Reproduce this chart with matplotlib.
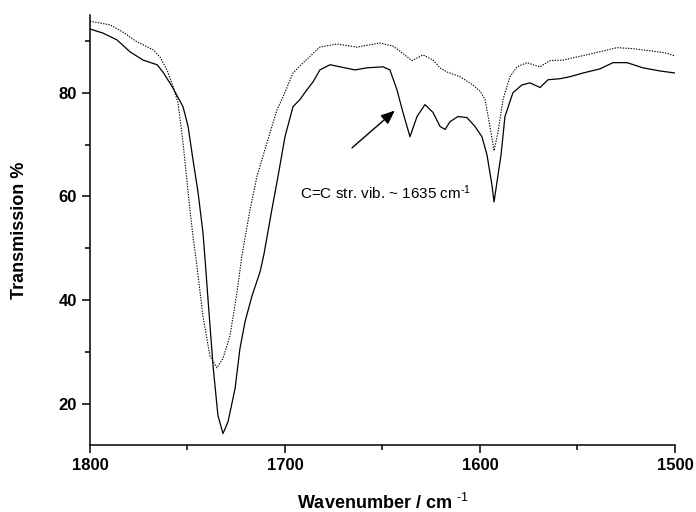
"""
IR spectrum 1800-1500 cm-1, two samples (solid / dotted)
"""
import matplotlib
matplotlib.use('Agg')
import matplotlib.pyplot as plt
from matplotlib.ticker import MultipleLocator

plt.rcParams['font.family'] = ['Liberation Sans', 'DejaVu Sans']
plt.rcParams['mathtext.fontset'] = 'custom'
plt.rcParams['mathtext.rm'] = 'Liberation Sans'
plt.rcParams['mathtext.default'] = 'regular'
plt.rcParams['axes.unicode_minus'] = False

# solid spectrum (wavenumber, transmission %)
wn_solid = [1800, 1793.3, 1786.2, 1779.5, 1772.8, 1765.6, 1762.6, 1757.9, 1752.3, 1749.7,
            1747.2, 1744.6, 1742.1, 1741.0, 1739.5, 1736.9, 1734.4, 1731.8, 1729.2,
            1725.6, 1723.1, 1720.5, 1716.9, 1712.8, 1710.8, 1706.7, 1703.6, 1700.0,
            1695.9, 1692.3, 1688.7, 1685.6, 1682.1, 1676.9, 1671.8, 1664.1, 1658.0,
            1649.7, 1646.2, 1642.6, 1639.5, 1635.9, 1632.3, 1628.2, 1624.1, 1620.5,
            1617.9, 1615.4, 1611.3, 1606.7, 1602.6, 1599.0, 1596.4, 1593.8, 1592.8,
            1590.8, 1589.2, 1587.2, 1583.1, 1578.5, 1574.4, 1569.2, 1565.1, 1559.0,
            1553.8, 1547.2, 1538.5, 1531.8, 1524.6, 1516.4, 1507.7, 1500]
tr_solid = [92.3, 91.5, 90.2, 87.9, 86.3, 85.4, 84.0, 81.2, 77.3, 73.5,
            67.1, 60.8, 53.1, 47.9, 40.2, 27.3, 17.7, 14.2, 16.5,
            22.9, 30.6, 35.8, 40.8, 45.4, 48.8, 57.5, 63.8, 71.5,
            77.3, 78.7, 80.6, 82.1, 84.4, 85.4, 85.0, 84.4, 84.8,
            85.0, 84.4, 80.6, 76.2, 71.5, 75.4, 77.7, 76.2, 73.5,
            72.9, 74.4, 75.4, 75.2, 73.5, 71.5, 68.0, 62.0, 58.9,
            64.0, 68.0, 75.4, 80.0, 81.5, 81.9, 81.0, 82.5, 82.7,
            83.1, 83.8, 84.6, 85.8, 85.8, 84.8, 84.2, 83.8]

# dotted spectrum
wn_dot = [1800, 1789.7, 1783.1, 1775.9, 1767.7, 1764.1, 1760.5, 1757.4, 1754.9, 1752.3,
          1749.7, 1747.2, 1745.6, 1742.1, 1738.5, 1734.9, 1731.8, 1728.2, 1724.6,
          1722.1, 1717.9, 1714.4, 1709.2, 1704.1, 1701.0, 1695.9, 1688.7, 1682.1,
          1673.3, 1663.1, 1651.3, 1644.6, 1641.0, 1634.9, 1629.2, 1624.1, 1620.5,
          1616.9, 1610.3, 1603.6, 1600.0, 1597.4, 1594.9, 1592.8, 1590.8, 1588.2,
          1584.6, 1581.0, 1575.9, 1572.8, 1569.2, 1564.1, 1557.4, 1550.3, 1538.5,
          1529.7, 1521.5, 1512.8, 1505.1, 1500]
tr_dot = [93.8, 93.1, 91.7, 89.8, 88.3, 86.9, 84.4, 81.2, 78.1, 70.4,
          60.8, 52.3, 47.9, 36.9, 29.2, 26.9, 28.7, 33.1, 41.5,
          48.5, 57.5, 63.8, 70.4, 76.7, 79.2, 83.8, 86.5, 88.8,
          89.4, 88.8, 89.6, 89.0, 88.0, 86.2, 87.3, 86.3, 84.8,
          84.0, 83.1, 81.5, 80.3, 78.7, 73.5, 68.8, 72.3, 78.7,
          83.1, 85.0, 85.8, 85.4, 85.0, 86.2, 86.3, 86.9, 87.9,
          88.7, 88.5, 88.1, 87.7, 87.1]

fig = plt.figure(figsize=(6.96, 5.12), dpi=100)
ax = fig.add_axes([0.1293, 0.1309, 0.8405, 0.8398])

ax.plot(wn_solid, tr_solid, color='black', lw=0.9, solid_joinstyle='round')
ax.plot(wn_dot, tr_dot, color='black', lw=0.8, ls=(0, (1.2, 1.2)))

ax.annotate('', xy=(1642.6, 76.9), xytext=(1666.7, 69.0),
            arrowprops=dict(arrowstyle='-|>,head_length=0.6,head_width=0.25',
                            color='black', lw=1.0, mutation_scale=14))
ax.text(1692.3, 59.4, r'C=C str. vib. ~ 1635 cm$^{\text{-1}}$', fontsize=11,
        ha='left', va='baseline')

ax.set_xlim(1800, 1500)
ax.set_ylim(12, 95)
ax.xaxis.set_major_locator(MultipleLocator(100))
ax.xaxis.set_minor_locator(MultipleLocator(50))
ax.yaxis.set_major_locator(MultipleLocator(20))
ax.yaxis.set_minor_locator(MultipleLocator(10))
ax.set_yticks([20, 40, 60, 80])

for s in ['top', 'right']:
    ax.spines[s].set_visible(False)
for s in ['left', 'bottom']:
    ax.spines[s].set_linewidth(1.1)
ax.tick_params(which='major', direction='out', length=6, width=1.1, labelsize=12)
ax.tick_params(which='minor', direction='out', length=3.6, width=1.1)
for lab in ax.get_xticklabels() + ax.get_yticklabels():
    lab.set_fontweight('bold')

ax.set_xlabel(r'Wavenumber / cm $^{\text{-1}}$', fontsize=13, fontweight='bold')
ax.set_ylabel('Transmission %', fontsize=13, fontweight='bold')
ax.xaxis.set_label_coords(0.5, -0.112)
ax.yaxis.set_label_coords(-0.106, 0.5)

plt.savefig('out.png', dpi=100)
